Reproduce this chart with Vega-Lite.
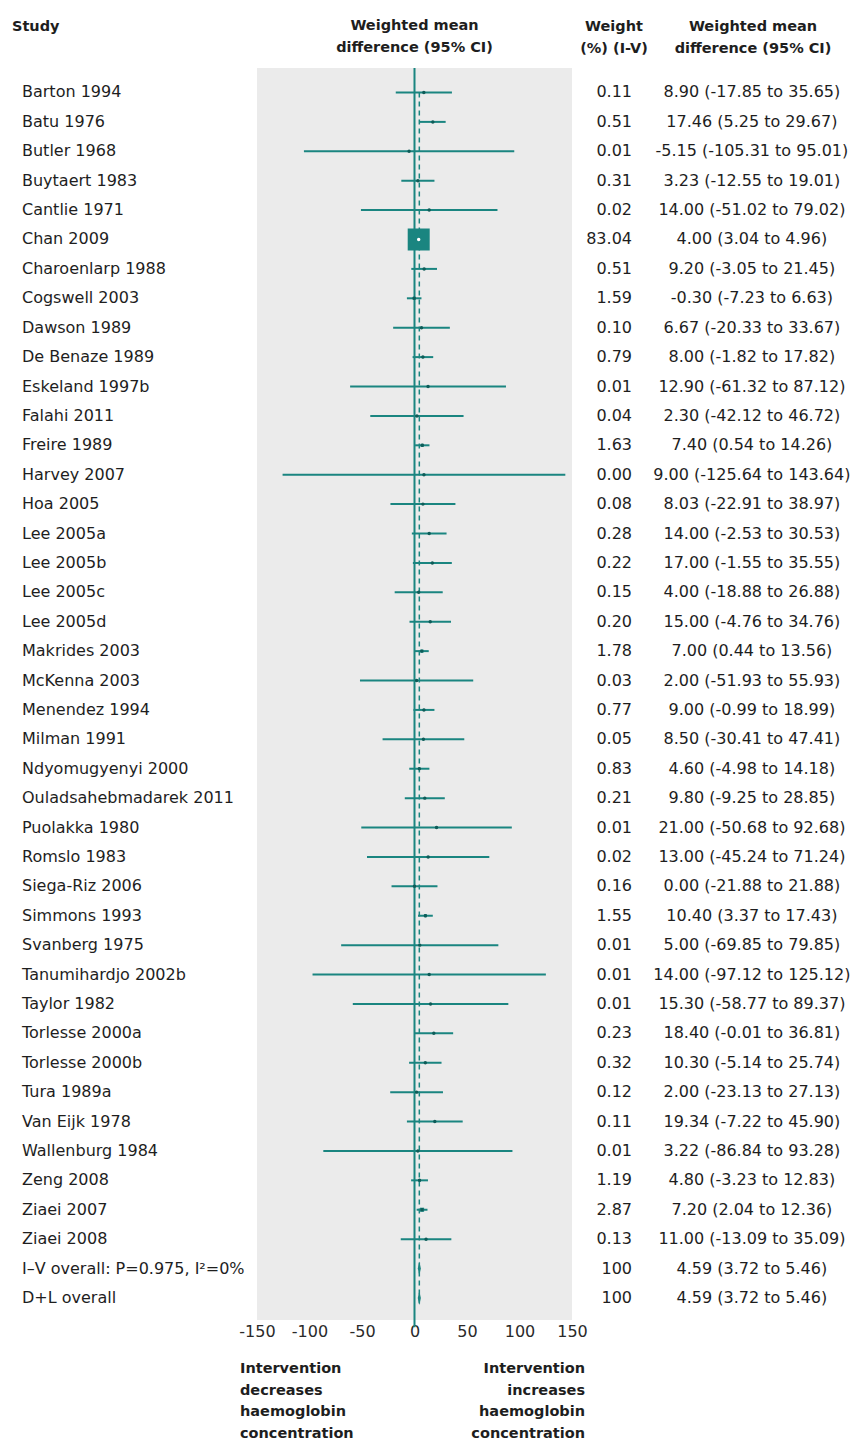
{
  "$schema": "https://vega.github.io/schema/vega-lite/v6.json",
  "padding": {"left": 12, "top": 17, "right": 0, "bottom": 0},
  "bounds": "flush",
  "spacing": 0,
  "datasets": {
    "trials": [
      {"row": 1, "kind": "study", "study": "Barton 1994", "weight": 0.11, "wlabel": "0.11", "est": 8.90, "lo": -17.85, "hi": 35.65, "ci": "8.90 (-17.85 to 35.65)"},
      {"row": 2, "kind": "study", "study": "Batu 1976", "weight": 0.51, "wlabel": "0.51", "est": 17.46, "lo": 5.25, "hi": 29.67, "ci": "17.46 (5.25 to 29.67)"},
      {"row": 3, "kind": "study", "study": "Butler 1968", "weight": 0.01, "wlabel": "0.01", "est": -5.15, "lo": -105.31, "hi": 95.01, "ci": "-5.15 (-105.31 to 95.01)"},
      {"row": 4, "kind": "study", "study": "Buytaert 1983", "weight": 0.31, "wlabel": "0.31", "est": 3.23, "lo": -12.55, "hi": 19.01, "ci": "3.23 (-12.55 to 19.01)"},
      {"row": 5, "kind": "study", "study": "Cantlie 1971", "weight": 0.02, "wlabel": "0.02", "est": 14.00, "lo": -51.02, "hi": 79.02, "ci": "14.00 (-51.02 to 79.02)"},
      {"row": 6, "kind": "study", "study": "Chan 2009", "weight": 83.04, "wlabel": "83.04", "est": 4.00, "lo": 3.04, "hi": 4.96, "ci": "4.00 (3.04 to 4.96)"},
      {"row": 7, "kind": "study", "study": "Charoenlarp 1988", "weight": 0.51, "wlabel": "0.51", "est": 9.20, "lo": -3.05, "hi": 21.45, "ci": "9.20 (-3.05 to 21.45)"},
      {"row": 8, "kind": "study", "study": "Cogswell 2003", "weight": 1.59, "wlabel": "1.59", "est": -0.30, "lo": -7.23, "hi": 6.63, "ci": "-0.30 (-7.23 to 6.63)"},
      {"row": 9, "kind": "study", "study": "Dawson 1989", "weight": 0.10, "wlabel": "0.10", "est": 6.67, "lo": -20.33, "hi": 33.67, "ci": "6.67 (-20.33 to 33.67)"},
      {"row": 10, "kind": "study", "study": "De Benaze 1989", "weight": 0.79, "wlabel": "0.79", "est": 8.00, "lo": -1.82, "hi": 17.82, "ci": "8.00 (-1.82 to 17.82)"},
      {"row": 11, "kind": "study", "study": "Eskeland 1997b", "weight": 0.01, "wlabel": "0.01", "est": 12.90, "lo": -61.32, "hi": 87.12, "ci": "12.90 (-61.32 to 87.12)"},
      {"row": 12, "kind": "study", "study": "Falahi 2011", "weight": 0.04, "wlabel": "0.04", "est": 2.30, "lo": -42.12, "hi": 46.72, "ci": "2.30 (-42.12 to 46.72)"},
      {"row": 13, "kind": "study", "study": "Freire 1989", "weight": 1.63, "wlabel": "1.63", "est": 7.40, "lo": 0.54, "hi": 14.26, "ci": "7.40 (0.54 to 14.26)"},
      {"row": 14, "kind": "study", "study": "Harvey 2007", "weight": 0.00, "wlabel": "0.00", "est": 9.00, "lo": -125.64, "hi": 143.64, "ci": "9.00 (-125.64 to 143.64)"},
      {"row": 15, "kind": "study", "study": "Hoa 2005", "weight": 0.08, "wlabel": "0.08", "est": 8.03, "lo": -22.91, "hi": 38.97, "ci": "8.03 (-22.91 to 38.97)"},
      {"row": 16, "kind": "study", "study": "Lee 2005a", "weight": 0.28, "wlabel": "0.28", "est": 14.00, "lo": -2.53, "hi": 30.53, "ci": "14.00 (-2.53 to 30.53)"},
      {"row": 17, "kind": "study", "study": "Lee 2005b", "weight": 0.22, "wlabel": "0.22", "est": 17.00, "lo": -1.55, "hi": 35.55, "ci": "17.00 (-1.55 to 35.55)"},
      {"row": 18, "kind": "study", "study": "Lee 2005c", "weight": 0.15, "wlabel": "0.15", "est": 4.00, "lo": -18.88, "hi": 26.88, "ci": "4.00 (-18.88 to 26.88)"},
      {"row": 19, "kind": "study", "study": "Lee 2005d", "weight": 0.20, "wlabel": "0.20", "est": 15.00, "lo": -4.76, "hi": 34.76, "ci": "15.00 (-4.76 to 34.76)"},
      {"row": 20, "kind": "study", "study": "Makrides 2003", "weight": 1.78, "wlabel": "1.78", "est": 7.00, "lo": 0.44, "hi": 13.56, "ci": "7.00 (0.44 to 13.56)"},
      {"row": 21, "kind": "study", "study": "McKenna 2003", "weight": 0.03, "wlabel": "0.03", "est": 2.00, "lo": -51.93, "hi": 55.93, "ci": "2.00 (-51.93 to 55.93)"},
      {"row": 22, "kind": "study", "study": "Menendez 1994", "weight": 0.77, "wlabel": "0.77", "est": 9.00, "lo": -0.99, "hi": 18.99, "ci": "9.00 (-0.99 to 18.99)"},
      {"row": 23, "kind": "study", "study": "Milman 1991", "weight": 0.05, "wlabel": "0.05", "est": 8.50, "lo": -30.41, "hi": 47.41, "ci": "8.50 (-30.41 to 47.41)"},
      {"row": 24, "kind": "study", "study": "Ndyomugyenyi 2000", "weight": 0.83, "wlabel": "0.83", "est": 4.60, "lo": -4.98, "hi": 14.18, "ci": "4.60 (-4.98 to 14.18)"},
      {"row": 25, "kind": "study", "study": "Ouladsahebmadarek 2011", "weight": 0.21, "wlabel": "0.21", "est": 9.80, "lo": -9.25, "hi": 28.85, "ci": "9.80 (-9.25 to 28.85)"},
      {"row": 26, "kind": "study", "study": "Puolakka 1980", "weight": 0.01, "wlabel": "0.01", "est": 21.00, "lo": -50.68, "hi": 92.68, "ci": "21.00 (-50.68 to 92.68)"},
      {"row": 27, "kind": "study", "study": "Romslo 1983", "weight": 0.02, "wlabel": "0.02", "est": 13.00, "lo": -45.24, "hi": 71.24, "ci": "13.00 (-45.24 to 71.24)"},
      {"row": 28, "kind": "study", "study": "Siega-Riz 2006", "weight": 0.16, "wlabel": "0.16", "est": 0.00, "lo": -21.88, "hi": 21.88, "ci": "0.00 (-21.88 to 21.88)"},
      {"row": 29, "kind": "study", "study": "Simmons 1993", "weight": 1.55, "wlabel": "1.55", "est": 10.40, "lo": 3.37, "hi": 17.43, "ci": "10.40 (3.37 to 17.43)"},
      {"row": 30, "kind": "study", "study": "Svanberg 1975", "weight": 0.01, "wlabel": "0.01", "est": 5.00, "lo": -69.85, "hi": 79.85, "ci": "5.00 (-69.85 to 79.85)"},
      {"row": 31, "kind": "study", "study": "Tanumihardjo 2002b", "weight": 0.01, "wlabel": "0.01", "est": 14.00, "lo": -97.12, "hi": 125.12, "ci": "14.00 (-97.12 to 125.12)"},
      {"row": 32, "kind": "study", "study": "Taylor 1982", "weight": 0.01, "wlabel": "0.01", "est": 15.30, "lo": -58.77, "hi": 89.37, "ci": "15.30 (-58.77 to 89.37)"},
      {"row": 33, "kind": "study", "study": "Torlesse 2000a", "weight": 0.23, "wlabel": "0.23", "est": 18.40, "lo": -0.01, "hi": 36.81, "ci": "18.40 (-0.01 to 36.81)"},
      {"row": 34, "kind": "study", "study": "Torlesse 2000b", "weight": 0.32, "wlabel": "0.32", "est": 10.30, "lo": -5.14, "hi": 25.74, "ci": "10.30 (-5.14 to 25.74)"},
      {"row": 35, "kind": "study", "study": "Tura 1989a", "weight": 0.12, "wlabel": "0.12", "est": 2.00, "lo": -23.13, "hi": 27.13, "ci": "2.00 (-23.13 to 27.13)"},
      {"row": 36, "kind": "study", "study": "Van Eijk 1978", "weight": 0.11, "wlabel": "0.11", "est": 19.34, "lo": -7.22, "hi": 45.90, "ci": "19.34 (-7.22 to 45.90)"},
      {"row": 37, "kind": "study", "study": "Wallenburg 1984", "weight": 0.01, "wlabel": "0.01", "est": 3.22, "lo": -86.84, "hi": 93.28, "ci": "3.22 (-86.84 to 93.28)"},
      {"row": 38, "kind": "study", "study": "Zeng 2008", "weight": 1.19, "wlabel": "1.19", "est": 4.80, "lo": -3.23, "hi": 12.83, "ci": "4.80 (-3.23 to 12.83)"},
      {"row": 39, "kind": "study", "study": "Ziaei 2007", "weight": 2.87, "wlabel": "2.87", "est": 7.20, "lo": 2.04, "hi": 12.36, "ci": "7.20 (2.04 to 12.36)"},
      {"row": 40, "kind": "study", "study": "Ziaei 2008", "weight": 0.13, "wlabel": "0.13", "est": 11.00, "lo": -13.09, "hi": 35.09, "ci": "11.00 (-13.09 to 35.09)"},
      {"row": 41, "kind": "overall", "study": "I–V overall: P=0.975, I²=0%", "weight": 100, "wlabel": "100", "est": 4.59, "lo": 3.72, "hi": 5.46, "ci": "4.59 (3.72 to 5.46)"},
      {"row": 42, "kind": "overall", "study": "D+L overall", "weight": 100, "wlabel": "100", "est": 4.59, "lo": 3.72, "hi": 5.46, "ci": "4.59 (3.72 to 5.46)"}
    ],
    "notes": [
      {"side": "left", "label": "Intervention\ndecreases\nhaemoglobin\nconcentration"},
      {"side": "right", "label": "Intervention\nincreases\nhaemoglobin\nconcentration"}
    ]
  },
  "resolve": {"scale": {"x": "independent", "y": "independent", "color": "independent", "size": "independent"}},
  "hconcat": [
    {
      "width": 245,
      "height": 1252,
      "data": {"name": "trials"},
      "title": {"text": ["Study", " "], "anchor": "start", "offset": 12},
      "mark": {"type": "text", "align": "left", "baseline": "middle", "dx": 10, "fontSize": 16, "font": "DejaVu Sans", "color": "#1e1e1e"},
      "encoding": {
        "x": {"datum": 0, "type": "quantitative", "scale": {"domain": [0, 1]}, "axis": null},
        "y": {"field": "row", "type": "quantitative", "scale": {"domain": [0.167, 42.75], "reverse": true, "nice": false, "zero": false}, "axis": null},
        "text": {"field": "study"}
      }
    },
    {
      "width": 315,
      "height": 1252,
      "view": {"fill": "#ebebeb", "stroke": null},
      "title": {"text": ["Weighted mean", "difference (95% CI)"], "anchor": "middle", "offset": 12},
      "layer": [
        {
          "data": {"name": "trials"},
          "transform": [{"filter": "datum.kind == 'study'"}],
          "mark": {"type": "rule", "color": "#1a8580", "strokeWidth": 2},
          "encoding": {
            "x": {"field": "lo", "type": "quantitative", "scale": {"domain": [-150, 150], "nice": false}, "axis": {"values": [-150, -100, -50, 0, 50, 100, 150], "labelExpr": "replace(datum.label, '−', '-')", "domain": false, "ticks": false, "grid": false, "title": null, "labelFontSize": 16, "labelFont": "DejaVu Sans", "labelColor": "#2a2a2a", "labelPadding": 3, "labelFlush": false}},
            "x2": {"field": "hi"},
            "y": {"field": "row", "type": "quantitative", "scale": {"domain": [0.167, 42.75], "reverse": true, "nice": false, "zero": false}, "axis": null}
          }
        },
        {
          "data": {"values": [{}]},
          "mark": {"type": "rule", "color": "#1a8580", "strokeWidth": 2, "clip": false},
          "encoding": {
            "x": {"datum": 0, "type": "quantitative"},
            "y": {"datum": 0.167, "type": "quantitative"},
            "y2": {"datum": 43.0}
          }
        },
        {
          "data": {"values": [{}]},
          "mark": {"type": "rule", "color": "#1a8580", "strokeWidth": 1.5, "strokeDash": [5, 4]},
          "encoding": {
            "x": {"datum": 4.59, "type": "quantitative"},
            "y": {"datum": 1, "type": "quantitative"},
            "y2": {"datum": 42.2}
          }
        },
        {
          "data": {"name": "trials"},
          "transform": [{"filter": "datum.kind == 'study'"}],
          "mark": {"type": "point", "shape": "square", "filled": true, "opacity": 1, "color": "#1a8580"},
          "encoding": {
            "x": {"field": "est", "type": "quantitative"},
            "y": {"field": "row", "type": "quantitative"},
            "size": {"field": "weight", "type": "quantitative", "scale": {"type": "linear", "domain": [0, 83.04], "range": [0, 484]}, "legend": null}
          }
        },
        {
          "data": {"name": "trials"},
          "transform": [{"filter": "datum.kind == 'study'"}],
          "mark": {"type": "point", "shape": "circle", "filled": true, "opacity": 1, "size": 12},
          "encoding": {
            "x": {"field": "est", "type": "quantitative"},
            "y": {"field": "row", "type": "quantitative"},
            "color": {"condition": {"test": "datum.weight > 50", "value": "#ffffff"}, "value": "#0e5c58"}
          }
        },
        {
          "data": {"name": "trials"},
          "transform": [{"filter": "datum.kind == 'overall'"}],
          "mark": {"type": "point", "shape": "M0,-1L0.22,0L0,1L-0.22,0Z", "filled": true, "opacity": 1, "size": 196, "color": "#1a8580"},
          "encoding": {
            "x": {"field": "est", "type": "quantitative"},
            "y": {"field": "row", "type": "quantitative"}
          }
        },
        {
          "data": {"name": "notes"},
          "transform": [{"filter": "datum.side == 'left'"}],
          "mark": {"type": "text", "align": "left", "baseline": "top", "lineBreak": "\n", "lineHeight": 21.5, "fontSize": 14.5, "fontWeight": "bold", "font": "DejaVu Sans", "color": "#1e1e1e"},
          "encoding": {
            "x": {"datum": -166.2, "type": "quantitative"},
            "y": {"datum": 44.18, "type": "quantitative"},
            "text": {"field": "label"}
          }
        },
        {
          "data": {"name": "notes"},
          "transform": [{"filter": "datum.side == 'right'"}],
          "mark": {"type": "text", "align": "right", "baseline": "top", "lineBreak": "\n", "lineHeight": 21.5, "fontSize": 14.5, "fontWeight": "bold", "font": "DejaVu Sans", "color": "#1e1e1e"},
          "encoding": {
            "x": {"datum": 162.4, "type": "quantitative"},
            "y": {"datum": 44.18, "type": "quantitative"},
            "text": {"field": "label"}
          }
        }
      ]
    },
    {
      "width": 60,
      "height": 1252,
      "data": {"name": "trials"},
      "title": {"text": ["Weight", "(%) (I-V)"], "anchor": "middle", "dx": 12, "offset": 12},
      "mark": {"type": "text", "align": "right", "baseline": "middle", "fontSize": 16, "font": "DejaVu Sans", "color": "#1e1e1e"},
      "encoding": {
        "x": {"datum": 1, "type": "quantitative", "scale": {"domain": [0, 1]}, "axis": null},
        "y": {"field": "row", "type": "quantitative", "scale": {"domain": [0.167, 42.75], "reverse": true, "nice": false, "zero": false}, "axis": null},
        "text": {"field": "wlabel"}
      }
    },
    {
      "width": 222,
      "height": 1252,
      "data": {"name": "trials"},
      "title": {"text": ["Weighted mean", "difference (95% CI)"], "anchor": "middle", "dx": 10, "offset": 12},
      "mark": {"type": "text", "align": "center", "baseline": "middle", "fontSize": 16, "font": "DejaVu Sans", "color": "#1e1e1e"},
      "encoding": {
        "x": {"datum": 0.54, "type": "quantitative", "scale": {"domain": [0, 1]}, "axis": null},
        "y": {"field": "row", "type": "quantitative", "scale": {"domain": [0.167, 42.75], "reverse": true, "nice": false, "zero": false}, "axis": null},
        "text": {"field": "ci"}
      }
    }
  ],
  "config": {
    "view": {"stroke": null},
    "title": {"font": "DejaVu Sans", "fontSize": 14.5, "fontWeight": "bold", "color": "#1e1e1e", "lineHeight": 22}
  }
}
